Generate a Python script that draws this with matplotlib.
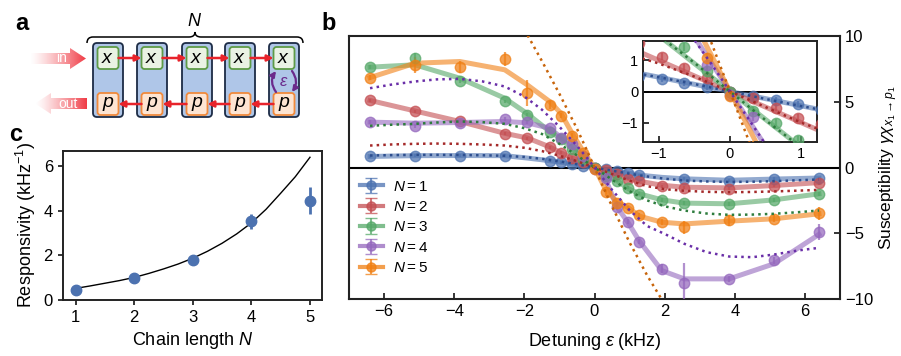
import matplotlib
matplotlib.use("Agg")
import matplotlib.pyplot as plt
import numpy as np
from matplotlib.patches import FancyBboxPatch, Polygon, PathPatch
from matplotlib.path import Path

plt.rcParams['font.family'] = ['Liberation Sans', 'DejaVu Sans']
plt.rcParams['mathtext.fontset'] = 'custom'
plt.rcParams['mathtext.rm'] = 'Liberation Sans'
plt.rcParams['mathtext.it'] = 'Liberation Sans:italic'
plt.rcParams['mathtext.bf'] = 'Liberation Sans:bold'

#%%
# data read off the reference
# panel c: responsivity vs chain length
chain_N = [1, 2, 3, 4, 5]
resp = [0.46, 1.0, 1.8, 3.52, 4.45]
resp_err = [0.08, 0.08, 0.1, 0.32, 0.62]
curve_N = [1.0, 1.25, 1.5, 1.75, 2.0, 2.25, 2.5, 2.75, 3.0, 3.25, 3.5, 3.75, 4.0, 4.25, 4.5, 4.75, 5.0]
curve_R = [0.52, 0.63, 0.75, 0.87, 1.01, 1.19, 1.39, 1.61, 1.87, 2.18, 2.54, 2.96, 3.45, 4.06, 4.78, 5.52, 6.39]

# panel b: susceptibility vs detuning
eps = [-6.4, -5.12, -3.84, -2.56, -1.92, -1.28, -0.96, -0.64, -0.32, 0.0,
       0.32, 0.64, 0.96, 1.28, 1.92, 2.56, 3.84, 5.12, 6.4]
nan = np.nan
pts1 = [0.84, 0.91, 0.91, 0.91, nan, 0.5, 0.4, 0.28, 0.15, 0.0, -0.13, -0.27, -0.4, -0.58, nan, -0.86, -0.99, -0.86, -0.79]
pts2 = [5.10, 4.28, 3.50, 2.56, 2.23, 1.55, 1.12, 0.75, 0.42, 0.0, -0.22, -0.52, -0.85, -1.04, -1.44, -1.55, -1.62, -1.37, -1.19]
pts3 = [7.63, 8.31, 6.54, 5.02, 4.03, 2.69, 2.18, 1.42, 0.66, 0.0, -0.63, -1.0, -1.55, -2.0, -2.46, -2.71, -2.76, -2.46, -2.0]
pts4 = [3.45, 3.17, 3.42, 3.68, 3.45, 2.99, 2.23, 1.80, 0.85, -0.12, -0.81, -3.02, -4.13, -5.63, -7.71, -8.80, -8.47, -7.07, -4.92]
pts5 = [6.84, 7.81, 7.63, 8.24, 5.65, 4.77, 3.93, 2.43, 1.09, -0.15, -1.9, -2.71, -3.1, -3.65, -4.16, -4.54, -4.03, -3.90, -3.47]

err1 = [0.1] * 19
err2 = [0.12] * 19
err3 = [0.15, 0.4, 0.15, 0.15, 0.15, 0.12, 0.12, 0.12, 0.12, 0.1, 0.12, 0.12, 0.12, 0.12, 0.15, 0.15, 0.15, 0.15, 0.15]
err4 = [0.15, 0.15, 0.15, 0.15, 0.15, 0.12, 0.12, 0.12, 0.12, 0.1, 0.15, 0.2, 0.2, 0.2, 0.35, 1.5, 0.2, 0.3, 0.6]
err5 = [0.2, 0.6, 0.45, 0.55, 1.0, 0.3, 0.2, 0.2, 0.15, 0.1, 0.3, 0.2, 0.2, 0.2, 0.25, 0.48, 0.44, 0.25, 0.5]

line1 = [0.84, 0.9, 0.91, 0.9, 0.72, 0.52, 0.4, 0.27, 0.14, 0.0, -0.14, -0.28, -0.42, -0.58, -0.75, -0.86, -0.97, -0.88, -0.8]
line2 = [5.1, 4.3, 3.5, 2.6, 2.25, 1.57, 1.12, 0.73, 0.4, 0.0, -0.25, -0.52, -0.82, -1.04, -1.35, -1.5, -1.55, -1.37, -1.15]
line3 = [7.63, 7.81, 6.79, 5.27, 4.1, 2.75, 2.2, 1.45, 0.7, 0.0, -0.6, -1.0, -1.6, -2.0, -2.46, -2.71, -2.76, -2.46, -2.0]
line4 = [3.45, 3.37, 3.42, 3.5, 3.4, 2.99, 2.3, 1.75, 0.85, -0.1, -0.9, -3.0, -4.2, -5.6, -7.84, -8.47, -8.47, -7.32, -5.09]
line5 = [6.84, 7.93, 8.06, 7.43, 6.29, 5.02, 4.13, 2.61, 1.22, 0.0, -1.7, -2.6, -3.05, -3.7, -4.16, -4.29, -4.08, -3.90, -3.52]

# theory (dotted)
eps_th = [-6.4, -5.8, -5.12, -4.5, -3.84, -3.2, -2.56, -2.0, -1.5, -1.0, -0.5, -0.25, 0.0,
          0.25, 0.5, 1.0, 1.5, 2.0, 2.56, 3.2, 3.84, 4.5, 5.12, 5.8, 6.4]
th1 = [0.91, 0.94, 0.96, 0.96, 0.95, 0.93, 0.89, 0.8, 0.66, 0.46, 0.24, 0.12, 0.0,
       -0.12, -0.24, -0.47, -0.68, -0.85, -0.99, -1.06, -1.1, -1.08, -1.04, -0.97, -0.91]
th2 = [1.67, 1.75, 1.80, 1.82, 1.80, 1.75, 1.67, 1.5, 1.25, 0.9, 0.48, 0.24, 0.0,
       -0.25, -0.5, -1.0, -1.42, -1.65, -1.77, -1.85, -1.88, -1.86, -1.82, -1.76, -1.70]
th3 = [3.17, 3.25, 3.32, 3.42, 3.50, 3.45, 3.32, 2.99, 2.55, 1.8, 0.92, 0.46, 0.0,
       -0.46, -0.92, -1.8, -2.5, -2.95, -3.27, -3.5, -3.6, -3.58, -3.52, -3.4, -3.27]
th4 = [6.03, 6.3, 6.54, 6.7, 6.74, 6.55, 6.16, 5.4, 4.4, 3.1, 1.65, 0.85, 0.0,
       -0.85, -1.7, -3.25, -4.45, -5.05, -5.8, -6.44, -6.77, -6.82, -6.62, -6.31, -6.11]
eps_th5 = [-2.4, -2.0, -1.5, -1.0, -0.5, -0.25, 0.0, 0.25, 0.5, 1.0, 1.5, 2.0, 2.4]
th5 = [12.2, 10.5, 8.1, 5.6, 2.95, 1.5, 0.0, -1.5, -2.95, -5.7, -8.2, -10.4, -12.2]

labels = [r'$N = 1$', r'$N = 2$', r'$N = 3$', r'$N = 4$', r'$N = 5$']
colors = ['#4C72B0', '#C44E52', '#55A868', '#9467BD', '#F07F13']
dark = ['#2E4F8F', '#A52A2A', '#2E7D3E', '#6A2FA8', '#C8640A']

pts = [pts1, pts2, pts3, pts4, pts5]
errs = [err1, err2, err3, err4, err5]
lines = [line1, line2, line3, line4, line5]
ths = [(eps_th, th1), (eps_th, th2), (eps_th, th3), (eps_th, th4), (eps_th5, th5)]

fig = plt.figure(figsize=(9.01, 3.56), dpi=100)

#%%
# panel a: schematic
ax_a = fig.add_axes([0, 1 - 128 / 356, 333 / 901, 128 / 356])
ax_a.set_xlim(0, 333)
ax_a.set_ylim(128, 0)
ax_a.axis('off')

col_x = [93, 137, 182, 225, 269]
for cx in col_x:
    ax_a.add_patch(FancyBboxPatch((cx, 43), 30, 74, boxstyle='round,pad=0,rounding_size=4',
                                  fc='#AFC6E8', ec='#1C2B45', lw=1.3))
    ax_a.add_patch(FancyBboxPatch((cx + 4.5, 47), 21, 22, boxstyle='round,pad=0,rounding_size=3',
                                  fc='#EAF2E4', ec='#5E9B47', lw=1.3))
    ax_a.add_patch(FancyBboxPatch((cx + 4.5, 93), 21, 22, boxstyle='round,pad=0,rounding_size=3',
                                  fc='#FDE4D2', ec='#F08A3C', lw=1.3))
    ax_a.text(cx + 15, 58.5, r'$x$', ha='center', va='center', fontsize=14)
    ax_a.text(cx + 15, 104, r'$p$', ha='center', va='center', fontsize=14)

for i in range(4):
    ax_a.annotate('', xy=(col_x[i + 1] + 4.5, 58), xytext=(col_x[i] + 25.5, 58),
                  arrowprops=dict(arrowstyle='-|>', color='#E8232B', lw=1.8,
                                  mutation_scale=9, shrinkA=0, shrinkB=0))
    ax_a.annotate('', xy=(col_x[i] + 25.5, 104), xytext=(col_x[i + 1] + 4.5, 104),
                  arrowprops=dict(arrowstyle='-|>', color='#E8232B', lw=1.8,
                                  mutation_scale=9, shrinkA=0, shrinkB=0))

# coupling arrows in the last cell
ax_a.annotate('', xy=(276, 71), xytext=(276, 92),
              arrowprops=dict(arrowstyle='-|>', color='#6B2A8C', lw=1.6, mutation_scale=8,
                              shrinkA=0, shrinkB=0, connectionstyle='arc3,rad=-0.35'))
ax_a.annotate('', xy=(292, 92), xytext=(292, 71),
              arrowprops=dict(arrowstyle='-|>', color='#6B2A8C', lw=1.6, mutation_scale=8,
                              shrinkA=0, shrinkB=0, connectionstyle='arc3,rad=-0.35'))
ax_a.text(284, 81.5, r'$\varepsilon$', ha='center', va='center', fontsize=12, color='#6B2A8C')

# brace with N
brace = Path([(87, 43), (87, 37), (93, 37), (189, 37), (195, 37), (195, 32),
              (195, 37), (201, 37), (297, 37), (303, 37), (303, 43)],
             [Path.MOVETO, Path.CURVE3, Path.CURVE3, Path.LINETO, Path.CURVE3, Path.CURVE3,
              Path.CURVE3, Path.CURVE3, Path.LINETO, Path.CURVE3, Path.CURVE3])
ax_a.add_patch(PathPatch(brace, fc='none', ec='k', lw=1.1))
ax_a.text(195, 21, r'$N$', ha='center', va='center', fontsize=13)

# faded in / out arrows
grad = np.zeros((1, 256, 4))
grad[..., :3] = matplotlib.colors.to_rgb('#F03A44')
grad[..., 3] = np.linspace(0, 1, 256) ** 1.3
arr_in = Polygon([(30, 53), (70, 53), (70, 48), (86, 58.5), (70, 69), (70, 64), (30, 64)],
                 closed=True, fc='none', ec='none')
ax_a.add_patch(arr_in)
im = ax_a.imshow(grad, extent=(30, 86, 69, 48), aspect='auto', interpolation='bilinear')
im.set_clip_path(arr_in)
ax_a.text(62, 58.5, 'in', ha='center', va='center', fontsize=10, color='white')

arr_out = Polygon([(35, 103.5), (51, 93), (51, 98), (87, 98), (87, 109), (51, 109), (51, 114)],
                  closed=True, fc='none', ec='none')
ax_a.add_patch(arr_out)
im2 = ax_a.imshow(grad, extent=(35, 87, 114, 93), aspect='auto', interpolation='bilinear')
im2.set_clip_path(arr_out)
ax_a.text(68, 103.5, 'out', ha='center', va='center', fontsize=10, color='white')
ax_a.set_xlim(0, 333)
ax_a.set_ylim(128, 0)

#%%
# panel c
ax_c = fig.add_axes([62.7 / 901, 1 - 300 / 356, 259 / 901, 149 / 356])
ax_c.plot(curve_N, curve_R, color='k', lw=1.0, zorder=2)
ax_c.errorbar(chain_N, resp, yerr=resp_err, fmt='o', color='#4C72B0', ms=7.5,
              elinewidth=2, capsize=0, zorder=3)
ax_c.set_xlim(0.78, 5.2)
ax_c.set_ylim(0, 6.67)
ax_c.set_xticks([1, 2, 3, 4, 5])
ax_c.set_yticks([0, 2, 4, 6])
ax_c.tick_params(labelsize=12, length=3.5, width=1.1)
for s in ax_c.spines.values():
    s.set_linewidth(1.4)
    s.set_color('#222222')
ax_c.set_xlabel(r'Chain length $N$', fontsize=13, labelpad=4)
ax_c.set_ylabel(r'Responsivity (kHz$^{-1}$)', fontsize=13, labelpad=4)

#%%
# panel b
ax_b = fig.add_axes([349 / 901, 1 - 299 / 356, 491 / 901, 263 / 356])
ax_b.axhline(0, color='k', lw=1.5, zorder=1)
handles = []
for k in range(5):
    ax_b.plot(eps, lines[k], color=colors[k], lw=3.6, alpha=0.6, zorder=2)
    ax_b.errorbar(eps, pts[k], yerr=errs[k], fmt='o', color=colors[k], ms=7.5, alpha=0.72,
                  elinewidth=1.6, capsize=0, zorder=3)
    ax_b.plot(ths[k][0], ths[k][1], color=dark[k], ls=':', lw=1.8, zorder=4)
    h = ax_b.errorbar([-100], [0], yerr=[1], fmt='o-', color=colors[k], ms=6.5, lw=3,
                      alpha=0.75, elinewidth=1.5, capsize=4)
    handles.append(h)
ax_b.set_xlim(-7, 7)
ax_b.set_ylim(-10, 10)
ax_b.set_xticks([-6, -4, -2, 0, 2, 4, 6])
ax_b.set_yticks([-10, -5, 0, 5, 10])
ax_b.yaxis.tick_right()
ax_b.yaxis.set_label_position('right')
ax_b.tick_params(direction='in', left=False, top=False, right=True, bottom=True,
                 labelsize=12, length=4.5, width=1.1)
for s in ax_b.spines.values():
    s.set_linewidth(1.5)
    s.set_color('#222222')
ax_b.set_xlabel(r'Detuning $\varepsilon$ (kHz)', fontsize=13, labelpad=9)
ax_b.set_ylabel(r'Susceptibility $\gamma\chi_{x_1\rightarrow p_1}$', fontsize=12.5, labelpad=3)
ax_b.legend(handles, labels, loc='upper left', bbox_to_anchor=(0.0, 0.495), frameon=False,
            fontsize=11, handlelength=1.5, handletextpad=0.7, labelspacing=0.42,
            borderaxespad=0.3)

# inset
ax_in = fig.add_axes([643 / 901, 1 - 142 / 356, 174 / 901, 101 / 356])
ax_in.set_facecolor('white')
ax_in.axhline(0, color='k', lw=1.4, zorder=1)
fit_x = np.array([-1.4, 1.4])
for k in range(5):
    ax_in.plot(fit_x, -resp[k] * fit_x, color=colors[k], lw=3.6, alpha=0.6, zorder=2)
    ax_in.errorbar(eps, pts[k], yerr=errs[k], fmt='o', color=colors[k], ms=7.5, alpha=0.72,
                   elinewidth=1.6, capsize=0, zorder=3)
    ax_in.plot(ths[k][0], ths[k][1], color=dark[k], ls=':', lw=1.8, zorder=4)
ax_in.set_xlim(-1.22, 1.22)
ax_in.set_ylim(-1.62, 1.62)
ax_in.set_xticks([-1, 0, 1])
ax_in.set_yticks([-1, 0, 1])
ax_in.tick_params(direction='in', labelsize=10.5, length=4, width=1.1)
for s in ax_in.spines.values():
    s.set_linewidth(1.4)
    s.set_color('#222222')

# panel letters
fig.text(15 / 901, 1 - 30 / 356, 'a', fontsize=17, fontweight='bold')
fig.text(321 / 901, 1 - 30 / 356, 'b', fontsize=17, fontweight='bold')
fig.text(9 / 901, 1 - 141 / 356, 'c', fontsize=17, fontweight='bold')

fig.savefig('out.png', dpi=100)
